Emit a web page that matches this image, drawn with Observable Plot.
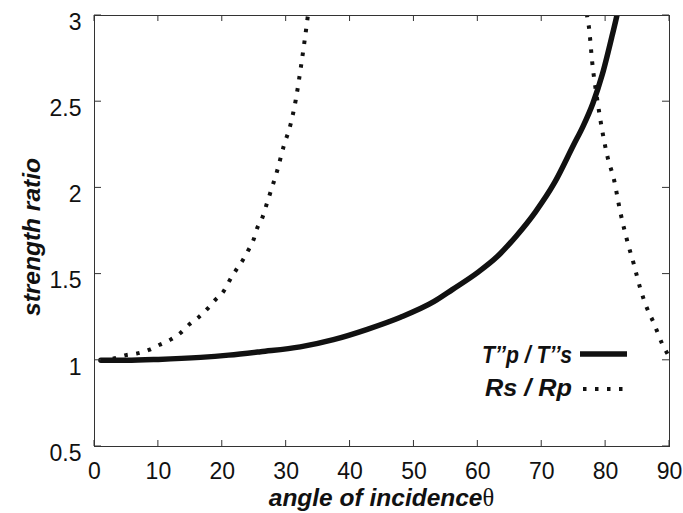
<!DOCTYPE html>
<html><head><meta charset="utf-8">
<script src="https://cdn.jsdelivr.net/npm/d3@7"></script>
<script src="https://cdn.jsdelivr.net/npm/@observablehq/plot@0.6"></script>
<style>
body{margin:0;background:#fff}
#wrap{position:relative;width:683px;height:513px}
</style>
</head><body><div id="wrap"></div>
<script>
// T''p / T''s (solid)
const tpTheta = [1, 5, 10, 16.6, 21, 26, 32.2, 37.4, 42.7, 47.9, 53.1, 56, 60, 63, 66, 69, 72, 75, 76.5, 78, 79.5, 81, 82, 83];
const tpRatio = [1.0, 1.0, 1.005, 1.017, 1.03, 1.05, 1.078, 1.12, 1.18, 1.25, 1.34, 1.41, 1.51, 1.60, 1.72, 1.86, 2.03, 2.25, 2.36, 2.49, 2.66, 2.88, 3.04, 3.25];
// Rs / Rp (dotted), left branch
const rsTheta1 = [1, 3, 4.9, 6.7, 8.5, 10.2, 11.9, 13.5, 14.9, 16.3, 17.7, 18.9, 20.2, 21.1, 22.1, 23.2, 24.1, 24.9, 25.5, 26.3, 26.9, 27.5, 28.6, 29.6, 30.7, 31.5, 32.3, 33.4, 33.9];
const rsRatio1 = [1.0, 1.01, 1.03, 1.04, 1.06, 1.09, 1.12, 1.16, 1.21, 1.25, 1.30, 1.35, 1.40, 1.46, 1.52, 1.58, 1.64, 1.70, 1.77, 1.83, 1.90, 1.97, 2.10, 2.24, 2.37, 2.51, 2.70, 3.0, 3.15];
// Rs / Rp (dotted), right branch
const rsTheta2 = [76.8, 77.1, 77.4, 77.9, 78.7, 80.3, 81.3, 82.3, 83.4, 84.4, 85.4, 86.5, 87.5, 88.8, 89.8];
const rsRatio2 = [3.15, 3.0, 2.93, 2.73, 2.51, 2.18, 2.05, 1.86, 1.69, 1.56, 1.42, 1.30, 1.22, 1.10, 1.03];

const xTicks = [0, 10, 20, 30, 40, 50, 60, 70, 80, 90];
const yTicks = [0.5, 1, 1.5, 2, 2.5, 3];
const yTickLabels = ["0.5", "1", "1.5", "2", "2.5", "3"];
const seriesNames = ["T\u2019\u2019p / T\u2019\u2019s", "Rs / Rp"];
const xTitle = "angle of incidence";
const xTitleSymbol = "\u03b8";
const yTitle = "strength ratio";

const tp = tpTheta.map((t, i) => ({theta: t, ratio: tpRatio[i]}));
const rs = [
  ...rsTheta1.map((t, i) => ({theta: t, ratio: rsRatio1[i], branch: "a"})),
  ...rsTheta2.map((t, i) => ({theta: t, ratio: rsRatio2[i], branch: "b"}))
];

const FONT = "'Liberation Sans', Arial, Helvetica, sans-serif";
const INK = "#111";
const TK = 6;

const svg = Plot.plot({
  width: 683, height: 513,
  marginLeft: 94, marginRight: 14, marginTop: 15, marginBottom: 67,
  x: {domain: [0, 90]},
  y: {domain: [0.5, 3]},
  style: {fontFamily: FONT, background: "#fff", color: INK},
  marks: [
    Plot.line(rs, {x: "theta", y: "ratio", z: "branch", stroke: INK, strokeWidth: 4,
      strokeDasharray: "3.5,8.5", strokeLinecap: "butt", curve: "monotone-x", clip: true}),
    Plot.line(tp, {x: "theta", y: "ratio", stroke: INK, strokeWidth: 5.5,
      curve: "monotone-x", clip: true}),
    Plot.frame({stroke: "#333", strokeWidth: 1}),
    Plot.axisX({anchor: "bottom", ticks: xTicks, tickSize: 0, tickPadding: 16, fontSize: 23, label: null, fill: INK}),
    Plot.axisY({anchor: "left", ticks: yTicks, tickFormat: d => yTickLabels[yTicks.indexOf(d)],
      tickSize: 0, tickPadding: 13, dy: 7, fontSize: 23, label: null, fill: INK})
  ]
});

const s = d3.select(svg);
const xs = svg.scale("x"), ys = svg.scale("y");
const [L, R] = xs.range, [B, T] = ys.range;
// inward ticks on all four sides, positioned through Plot's scales
const tg = s.append("g").attr("stroke", "#333").attr("stroke-width", 1);
for (const t of xTicks) {
  const px = xs.apply(t);
  tg.append("line").attr("x1", px).attr("x2", px).attr("y1", B).attr("y2", B - TK);
  tg.append("line").attr("x1", px).attr("x2", px).attr("y1", T).attr("y2", T + TK);
}
for (const t of yTicks) {
  const py = ys.apply(t);
  tg.append("line").attr("x1", L).attr("x2", L + TK + 1).attr("y1", py).attr("y2", py);
  tg.append("line").attr("x1", R).attr("x2", R - TK - 1).attr("y1", py).attr("y2", py);
}

// axis titles
const xt = s.append("text")
  .attr("x", (L + R) / 2).attr("y", 506).attr("text-anchor", "middle")
  .attr("fill", INK).style("font-family", FONT).style("font-size", "24.5px");
xt.append("tspan").attr("font-weight", "bold").attr("font-style", "italic").text(xTitle);
xt.append("tspan").style("font-family", "'Liberation Serif','DejaVu Serif',serif").attr("font-weight", "normal").text(xTitleSymbol);

s.append("text")
  .attr("transform", "translate(40,237) rotate(-90)")
  .attr("text-anchor", "middle").attr("fill", INK)
  .style("font-family", FONT).style("font-size", "24.5px")
  .attr("font-weight", "bold").attr("font-style", "italic")
  .text(yTitle);

// legend
const lg = s.append("g").style("font-family", FONT).attr("font-weight", "bold").attr("font-style", "italic").attr("fill", INK);
lg.append("text").attr("x", 572).attr("y", 363).attr("text-anchor", "end").style("font-size", "24px")
  .attr("textLength", 90).attr("lengthAdjust", "spacingAndGlyphs").text(seriesNames[0]);
lg.append("text").attr("x", 572).attr("y", 396).attr("text-anchor", "end").style("font-size", "24px")
  .attr("textLength", 87).attr("lengthAdjust", "spacingAndGlyphs").text(seriesNames[1]);
s.append("line").attr("x1", 580).attr("x2", 627).attr("y1", 354).attr("y2", 354)
  .attr("stroke", INK).attr("stroke-width", 5.5);
s.append("line").attr("x1", 583).attr("x2", 623).attr("y1", 389).attr("y2", 389)
  .attr("stroke", INK).attr("stroke-width", 4).attr("stroke-dasharray", "3.5,8.5");

document.getElementById("wrap").appendChild(svg);
</script>
</body></html>
